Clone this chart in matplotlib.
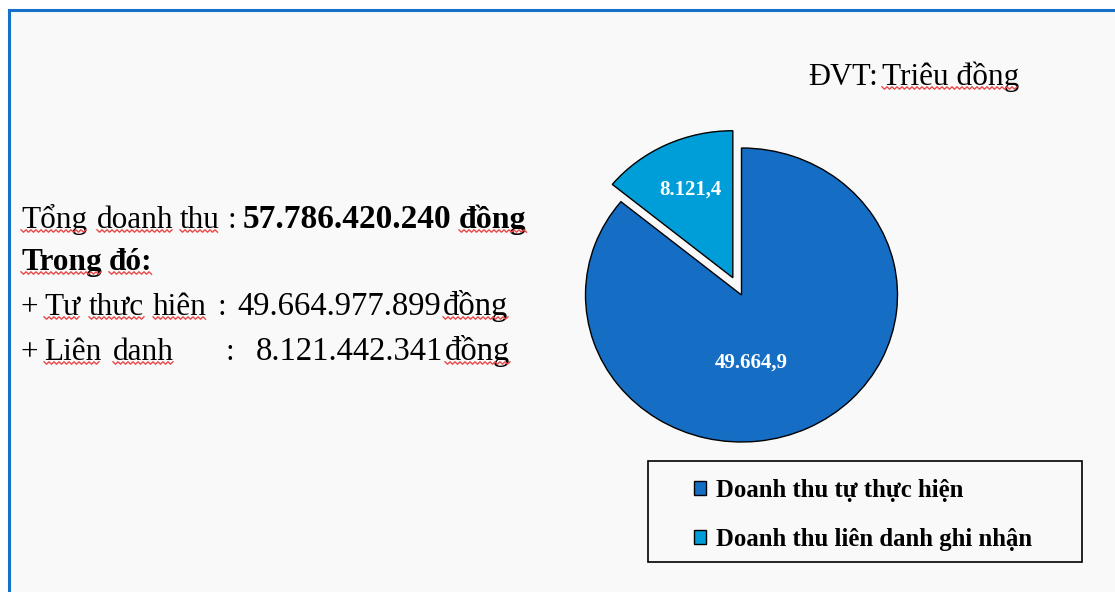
import matplotlib
matplotlib.use("Agg")
import numpy as np
import matplotlib.pyplot as plt
from matplotlib.patches import Rectangle
from matplotlib.lines import Line2D

# ---- data ----
categories = ["Doanh thu tự thực hiện", "Doanh thu liên danh ghi nhận"]
values = [49664.9, 8121.4]          # Triệu đồng
value_labels = ["49.664,9", "8.121,4"]
colors = ["#156EC4", "#009ED8"]
unit_label = "ĐVT:"
unit_text = "Triêu đồng"

W, H = 1115, 592
fig = plt.figure(figsize=(W / 100, H / 100), dpi=100)
fig.patch.set_facecolor("white")

def fx(x):
    return x / W

def fy(y):
    return 1 - y / H

# background panel with blue top/left border
fig.patches.append(Rectangle((fx(9), 0), 1 - fx(9), fy(10), transform=fig.transFigure,
                             facecolor="#F9F9F9", edgecolor="none", zorder=-5))
fig.lines.append(Line2D([fx(9), 1], [fy(10), fy(10)], transform=fig.transFigure,
                        color="#1572C8", lw=2.2, zorder=1))
fig.lines.append(Line2D([fx(9), fx(9)], [0, fy(10)], transform=fig.transFigure,
                        color="#1572C8", lw=2.2, zorder=1))

serif = "Liberation Serif"

# ---- pie ----
cx, cy = 741.5, 295
rx, ry = 156, 147
aw = ah = 420
ax = fig.add_axes([fx(cx - aw / 2), fy(cy + ah / 2), aw / W, ah / H])
ax.set_axis_off()
ax.patch.set_visible(False)
wedges, texts = ax.pie(values, startangle=90, counterclock=False,
                       explode=[0, 0.13], colors=colors,
                       labels=value_labels, labeldistance=0.5,
                       wedgeprops=dict(edgecolor="black", linewidth=1.0),
                       textprops=dict(color="white", fontweight="bold",
                                      family=serif, fontsize=15,
                                      ha="center", va="center"))
ax.set_aspect("auto")
ax.set_xlim(-aw / 2 / rx, aw / 2 / rx)
ax.set_ylim(-ah / 2 / ry, ah / 2 / ry)
texts[0].set_position((0.06, -0.46))
texts[1].set_position((-0.33, 0.72))

underlined = []

def t(x, y, s, bold=False, size=22.5, wavy=False):
    obj = fig.text(fx(x), fy(y), s, family=serif, fontsize=size,
                   fontweight="bold" if bold else "normal", va="baseline", ha="left")
    if wavy:
        underlined.append((obj, y))
    return obj

# ---- unit text ----
t(808, 85, unit_label, size=22)
t(882, 85, unit_text, size=22.5, wavy=True)

# ---- left summary text ----
t(21, 228, "Tổng", wavy=True)
t(97, 228, "doanh", wavy=True)
t(180, 228, "thu", wavy=True)
t(228, 228, ":")
t(243, 228, "57.786.420.240", bold=True, size=24)
t(459, 228, "đồng", bold=True, size=23, wavy=True)

t(21, 270, "Trong", bold=True, wavy=True)
t(109, 270, "đó:", bold=True, wavy=True)

t(20, 315, "+")
t(44, 315, "Tư", wavy=True)
t(89, 315, "thưc", wavy=True)
t(153, 315, "hiên", wavy=True)
t(218, 315, ":")
t(237, 315, "49.664.977.899", size=23.5)
t(443, 315, "đồng", size=23.5, wavy=True)

t(20, 360, "+")
t(44, 360, "Liên", wavy=True)
t(113, 360, "danh", wavy=True)
t(226, 360, ":")
t(256, 360, "8.121.442.341", size=23.5)
t(445, 360, "đồng", size=23.5, wavy=True)

# ---- legend ----
fig.patches.append(Rectangle((fx(648), fy(562)), fx(1082) - fx(648), fy(461) - fy(562),
                             transform=fig.transFigure, facecolor="none",
                             edgecolor="black", lw=1.2, zorder=3))
leg = fig.legend(wedges, categories, loc="center left",
                 bbox_to_anchor=(fx(694), fy(515)), bbox_transform=fig.transFigure,
                 frameon=False, borderpad=0, borderaxespad=0,
                 handlelength=0.5, handleheight=0.5, handletextpad=0.38,
                 labelspacing=1.05,
                 prop=dict(family=serif, weight="bold", size=17.8))

# ---- spell-check style wavy underlines (text decoration) ----
fig.canvas.draw()
renderer = fig.canvas.get_renderer()
for obj, ybase in underlined:
    bb = obj.get_window_extent(renderer)
    xs = np.arange(bb.x0, bb.x1 + 0.1, 2.5)
    yy = H - (ybase + 3.0) + np.where(np.arange(len(xs)) % 2 == 0, 1.2, -1.2)
    fig.lines.append(Line2D(xs / W, yy / H, transform=fig.transFigure,
                            color="#E84848", lw=1.0, zorder=4))

fig.savefig("out.png", dpi=100)
